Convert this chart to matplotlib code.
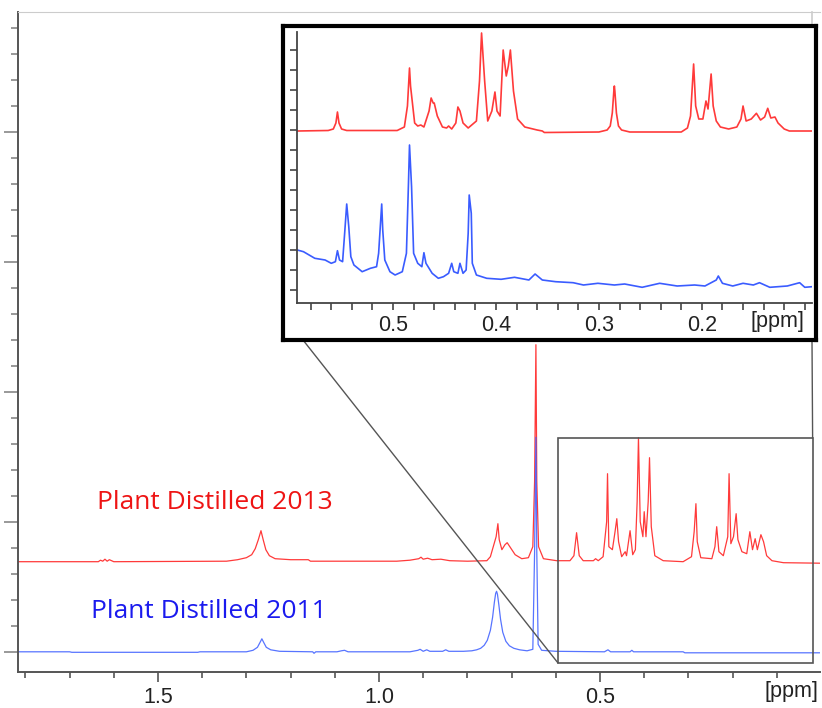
import numpy as np
import matplotlib
matplotlib.use("Agg")
import matplotlib.pyplot as plt
from matplotlib.patches import Rectangle, ConnectionPatch
from matplotlib.lines import Line2D

# ---- main spectrum (ppm, intensity above own baseline) ----
red_main_ppm = [1.817, 1.635, 1.630, 1.625, 1.620, 1.615, 1.610, 1.600,
                1.345, 1.320, 1.300, 1.288, 1.280, 1.273, 1.267, 1.262, 1.256, 1.248, 1.235, 1.200, 1.160, 1.155,
                0.960, 0.930, 0.910, 0.905, 0.900, 0.890, 0.880, 0.860, 0.840,
                0.800, 0.756, 0.748, 0.735, 0.731, 0.728, 0.722, 0.715, 0.710, 0.704, 0.692, 0.677, 0.662,
                0.652, 0.648, 0.645, 0.643, 0.639, 0.628, 0.598, 0.568, 0.559, 0.553, 0.547, 0.538,
                0.515, 0.510, 0.504, 0.493, 0.485, 0.483, 0.480, 0.472, 0.466, 0.462, 0.458, 0.451,
                0.443, 0.440, 0.432, 0.426, 0.420, 0.416, 0.413, 0.409, 0.403, 0.400, 0.396, 0.391,
                0.388, 0.384, 0.376, 0.357, 0.312, 0.293, 0.287, 0.283, 0.280, 0.272, 0.247, 0.240,
                0.236, 0.231, 0.221, 0.211, 0.208, 0.204, 0.198, 0.192, 0.188, 0.179, 0.168, 0.161,
                0.155, 0.149, 0.144, 0.136, 0.130, 0.123, 0.111, 0.085, 0.000]
red_main_int = [0, 0, 1.5, 0.5, 2.5, 0.5, 2, 0,
                0.5, 2, 4, 7, 13, 22, 31, 22, 12, 6, 3, 2, 2, 0.5,
                0.5, 1.5, 3, 4.5, 2.5, 3.5, 2, 2.5, 1,
                0.5, 1, 5, 25, 38, 22, 12, 17, 19, 15, 7, 3, 4,
                15, 80, 217, 80, 15, 3, 1, 1, 6, 29, 6, 1,
                1, 3, 1, 5, 40, 88, 15, 12, 30, 43, 20, 5,
                10, 6, 31, 7, 12, 60, 124, 40, 25, 50, 25, 60,
                104, 35, 6, 1, 0, 5, 30, 58, 20, 4, 3, 15,
                35, 10, 6, 25, 88, 18, 25, 48, 22, 10, 8, 30,
                12, 23, 12, 27, 20, 6, 1, -1, -1.5]

blue_main_ppm = [1.817, 1.700, 1.695, 1.410, 1.405, 1.300, 1.285, 1.275, 1.269, 1.265, 1.261, 1.255, 1.245,
                 1.225, 1.150, 1.147, 1.143, 1.095, 1.085, 1.078, 1.070, 0.930, 0.912, 0.907, 0.900,
                 0.892, 0.885, 0.856, 0.849, 0.842, 0.809, 0.790, 0.779, 0.770, 0.762, 0.755, 0.748,
                 0.743, 0.739, 0.736, 0.734, 0.732, 0.729, 0.725, 0.720, 0.713, 0.705, 0.695, 0.682,
                 0.665, 0.652, 0.648, 0.645, 0.643, 0.640, 0.632, 0.600, 0.490,
                 0.482, 0.476, 0.432, 0.428, 0.424, 0.312, 0.308, 0.000]
blue_main_int = [0.5, 0.5, 0, 0, 0.5, 0.5, 2, 5, 10, 13.5, 10, 5, 2.5,
                 1, 0.5, -1, 0.5, 0.5, 1.5, 2, 0.5, 0.5, 2, 3, 1,
                 2.5, 1, 1, 2.5, 1, 1, 1.5, 2.5, 4, 7, 12, 22,
                 35, 50, 59, 61, 58, 48, 33, 20, 11, 6.5, 4, 2.5,
                 1.5, 3, 100, 215, 100, 8, 2, 1, 0.5,
                 2.5, 0.5, 0.5, 2, 0.5, 0.5, -0.5, -0.5]

# ---- inset spectrum (0.59 - 0.09 ppm) ----
red_inset_ppm = [0.593, 0.563, 0.558, 0.5555, 0.554, 0.5525, 0.550, 0.545, 0.496, 0.489, 0.486, 0.484,
                 0.483, 0.479, 0.476, 0.473, 0.470, 0.465, 0.463, 0.461, 0.460, 0.457, 0.452, 0.448,
                 0.446, 0.443, 0.439, 0.437, 0.435, 0.432, 0.427, 0.419, 0.416, 0.414, 0.411, 0.408,
                 0.404, 0.401, 0.399, 0.396, 0.393, 0.390, 0.388, 0.386, 0.383, 0.379, 0.372, 0.360,
                 0.355, 0.353, 0.300, 0.292, 0.289, 0.287, 0.2855, 0.285, 0.2845, 0.283, 0.281, 0.278,
                 0.270, 0.220, 0.214, 0.211, 0.208, 0.206, 0.203, 0.199, 0.196, 0.194, 0.191, 0.189,
                 0.186, 0.182, 0.174, 0.166, 0.162, 0.160, 0.157, 0.152, 0.147, 0.143, 0.139, 0.136,
                 0.133, 0.129, 0.126, 0.120, 0.115, 0.093]
red_inset_int = [0, 0.5, 2, 8, 19, 8, 2, 0.5, 0.5, 4, 25, 63,
                 45, 8, 5, 6, 4, 20, 33, 28, 28, 15, 4, 3,
                 5, 2, 8, 24, 20, 8, 3, 10, 50, 98, 50, 10,
                 20, 39, 20, 15, 81, 55, 65, 81, 40, 12, 4, 1,
                 0, -1.5, -1, 1, 5, 18, 40, 45, 40, 18, 5, 1,
                 -1, -1, 3, 15, 67, 25, 12, 12, 30, 22, 57, 25,
                 10, 4, 2, 4, 12, 25, 10, 12, 17.7, 11, 14, 22.7,
                 13, 14, 8, 2, 0, 0]

blue_inset_ppm = [0.593, 0.587, 0.576, 0.566, 0.560, 0.556, 0.554, 0.552, 0.549, 0.547, 0.545, 0.543,
                  0.541, 0.538, 0.530, 0.522, 0.516, 0.514, 0.511, 0.510, 0.508, 0.503, 0.498, 0.491,
                  0.487, 0.485, 0.484, 0.482, 0.480, 0.476, 0.472, 0.470, 0.468, 0.462, 0.456, 0.451,
                  0.446, 0.443, 0.441, 0.437, 0.435, 0.432, 0.429, 0.427, 0.426, 0.424, 0.423, 0.419,
                  0.409, 0.395, 0.382, 0.368, 0.362, 0.355, 0.342, 0.325, 0.315, 0.301, 0.285, 0.275,
                  0.258, 0.241, 0.224, 0.207, 0.197, 0.186, 0.184, 0.180, 0.170, 0.160, 0.150, 0.144,
                  0.134, 0.117, 0.105, 0.100, 0.093]
blue_inset_int = [52.7, 51, 44.4, 42.7, 39.4, 41, 52, 42.7, 41, 69.4, 98.7, 76,
                  46, 37.7, 31, 34.4, 36, 49.4, 98.7, 72.7, 42.7, 31, 27.7, 31,
                  49.4, 119.4, 157.7, 116, 49.4, 39.4, 36, 50, 39.4, 29.4, 24.4, 26,
                  29.4, 39.4, 31, 29.4, 39.4, 29.4, 32.7, 69.4, 107.7, 89.4, 39.4, 27.7,
                  24.4, 23.4, 25.4, 22.7, 28.7, 22.7, 21, 20, 17.7, 19.4, 17.7, 18.7,
                  15.4, 19.4, 16.7, 17.7, 16.7, 22.7, 26.7, 19.4, 16.7, 19.4, 17.7, 20,
                  15.4, 16.7, 20, 15.4, 16]

main_ticks = [1.5, 1.0, 0.5]
main_ticklabels = ["1.5", "1.0", "0.5"]
inset_ticks = [0.5, 0.4, 0.3, 0.2]
inset_ticklabels = ["0.5", "0.4", "0.3", "0.2"]
label_2013 = "Plant Distilled 2013"
label_2011 = "Plant Distilled 2011"

RED_OFFSET = 90.6        # red trace stacked above blue in main plot
RED_INSET_OFFSET = 171.7

RED = "#ff3a3a"
BLUE = "#3a5cff"
AXC = "#555555"

W, H = 822, 708
fig = plt.figure(figsize=(W / 100, H / 100), dpi=100)


def rect(l, t, r, b):
    return [l / W, 1 - b / H, (r - l) / W, (b - t) / H]


# ---- main axes ----
ax = fig.add_axes(rect(18, 12, 820, 671.7), zorder=1)
ax.plot(red_main_ppm, np.array(red_main_int) + RED_OFFSET, color=RED, lw=0.9)
ax.plot(blue_main_ppm, blue_main_int, color=BLUE, lw=0.9, alpha=0.85)
ax.set_xlim(1.8167, 0.0023)
ax.set_ylim(-19.4, 640.3)
ax.spines["right"].set_visible(False)
ax.spines["top"].set_color("#cccccc")
for s in ("left", "bottom"):
    ax.spines[s].set_color(AXC)
    ax.spines[s].set_linewidth(1.4)
ax.set_xticks(main_ticks)
ax.set_xticklabels(main_ticklabels, fontsize=15.5, family="Liberation Sans", color="#222222")
ax.set_xticks(np.arange(0.1, 1.81, 0.1), minor=True)
ax.set_yticks(np.arange(0, 521, 130))
ax.set_yticklabels([])
ax.set_yticks(np.arange(0, 625, 26), minor=True)
ax.tick_params(axis="x", which="major", length=7, width=1.2, color=AXC, pad=4)
ax.tick_params(axis="x", which="minor", length=4, width=1.2, color=AXC)
ax.tick_params(axis="y", which="major", length=10, width=1.2, color="#888888")
ax.tick_params(axis="y", which="minor", length=5, width=1.2, color="#888888")

fig.text(818 / W, 1 - 692 / H, "[ppm]", ha="right", va="center", fontsize=15.5,
         family="Liberation Sans", color="#222222")

fig.text(97 / W, 1 - 509 / H, label_2013, color="#ee1414", fontsize=19,
         family="Open Sans", va="baseline")
fig.text(91 / W, 1 - 618 / H, label_2011, color="#1a1aee", fontsize=19,
         family="Open Sans", va="baseline")

# zoom box
ax.add_patch(Rectangle((0.019, -10.7), 0.576, 225, fill=False, ec="#555555", lw=1.2, zorder=3))

# connectors
con1 = ConnectionPatch(xyA=(303, H - 340), coordsA="figure pixels",
                       xyB=(0.595, -10.7), coordsB="data", axesB=ax,
                       color="#555555", lw=1.0, zorder=2)
con2 = ConnectionPatch(xyA=(812, H - 340), coordsA="figure pixels",
                       xyB=(0.019, 214.3), coordsB="data", axesB=ax,
                       color="#555555", lw=1.0, zorder=2)
fig.add_artist(con1)
fig.add_artist(con2)
fig.add_artist(Line2D([812 / W, 812 / W], [1 - 12 / H, 1 - 27 / H],
                      transform=fig.transFigure, color="#cccccc", lw=1.2, zorder=2))

# ---- inset frame ----
fa = fig.add_axes(rect(283, 26, 816, 340), zorder=3)
fa.set_xticks([])
fa.set_yticks([])
for s in fa.spines.values():
    s.set_linewidth(3)
    s.set_color("black")

ia = fig.add_axes(rect(297.3, 31.7, 812, 302.7), zorder=4)
ia.patch.set_alpha(0)
ia.plot(red_inset_ppm, np.array(red_inset_int) + RED_INSET_OFFSET, color=RED, lw=1.2)
ia.plot(blue_inset_ppm, blue_inset_int, color=BLUE, lw=1.2)
ia.set_xlim(0.593, 0.093)
ia.set_ylim(0, 271)
ia.spines["right"].set_visible(False)
ia.spines["top"].set_visible(False)
for s in ("left", "bottom"):
    ia.spines[s].set_color("#444444")
    ia.spines[s].set_linewidth(1.3)
ia.set_xticks(inset_ticks)
ia.set_xticklabels(inset_ticklabels, fontsize=15.5, family="Liberation Sans", color="#222222")
ia.set_xticks(np.arange(0.10, 0.59, 0.02), minor=True)
ia.set_yticks(np.arange(12.7, 260, 20))
ia.set_yticklabels([])
ia.tick_params(axis="x", which="both", length=5, width=1.2, color="#444444", pad=4)
ia.tick_params(axis="y", length=5, width=1.2, color="#444444")

fig.text(804 / W, 1 - 321.7 / H, "[ppm]", ha="right", va="center", fontsize=15.5,
         family="Liberation Sans", color="#222222")

fig.savefig("out.png", dpi=100)
